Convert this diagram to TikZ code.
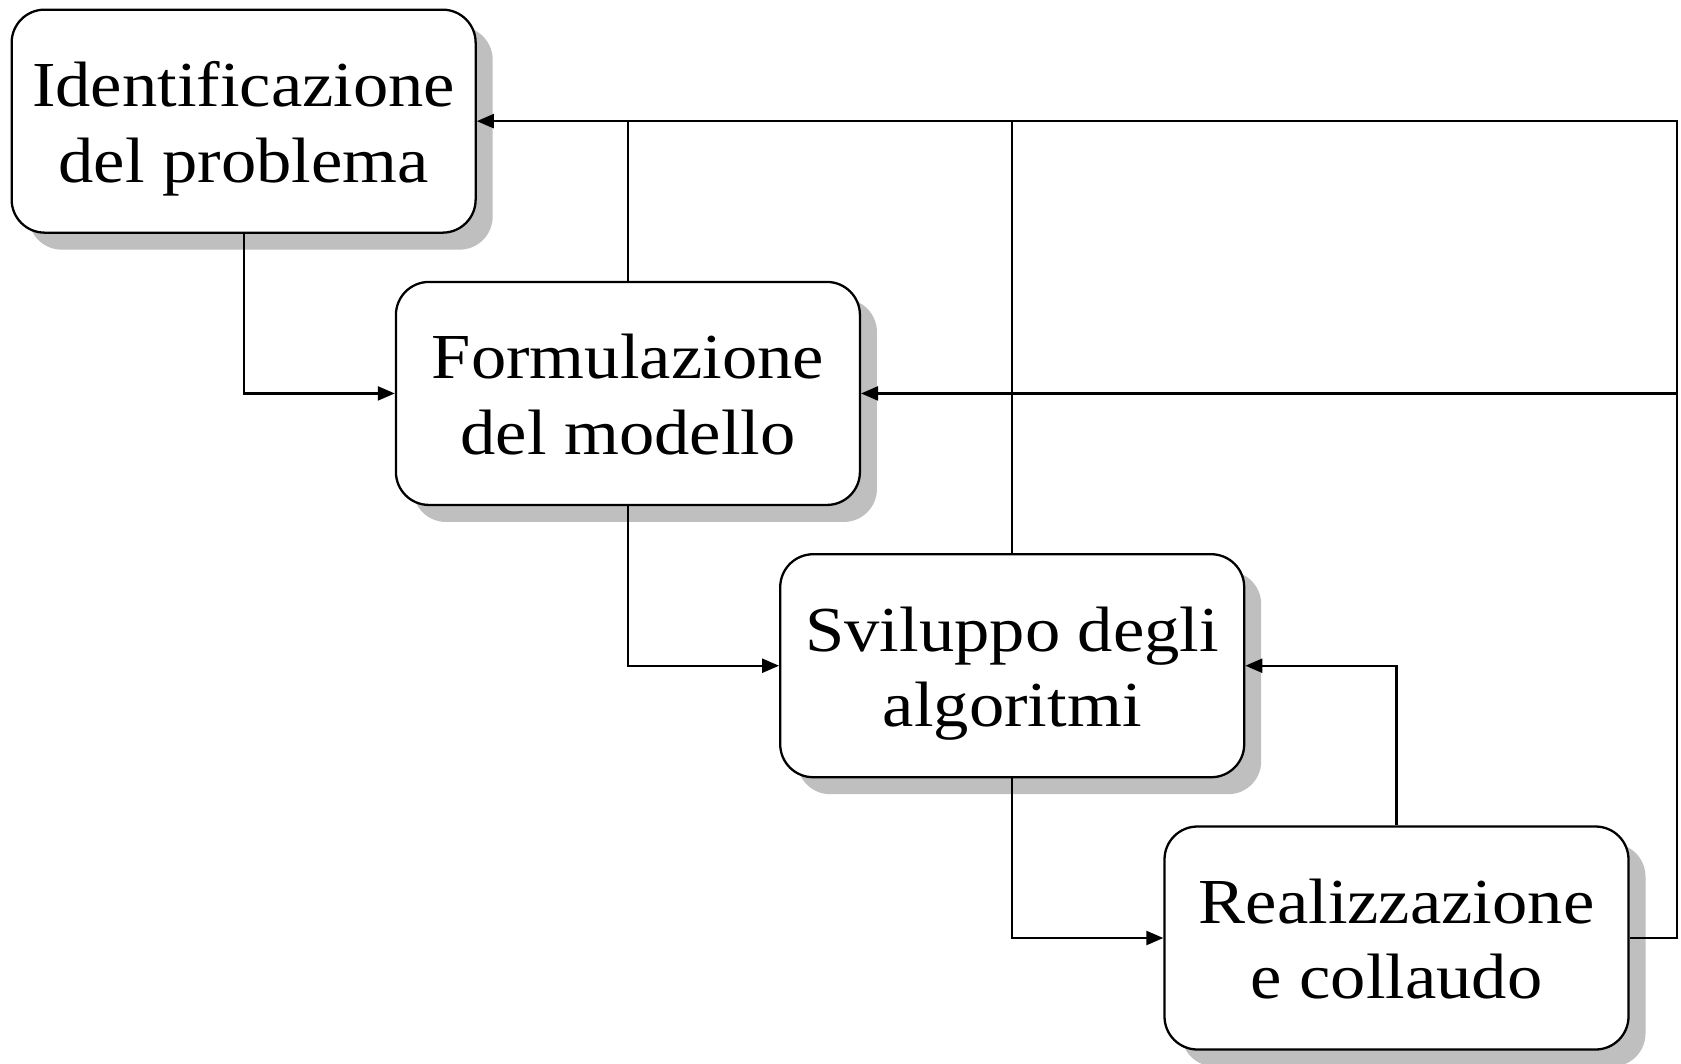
\documentclass[tikz,border=0pt]{standalone}
\usepackage{fontspec}
\setmainfont{Liberation Serif}[FakeStretch=1.1]
\usepackage{tikz}
\usetikzlibrary{calc}
\usetikzlibrary{arrows,arrows.meta,shadows,shapes}
\usetikzlibrary{fit,positioning}
\usepackage{xcolor}
\definecolor{shade}{rgb}{0.75,0.75,0.75}
\begin{document}
\begin{tikzpicture}[line width=1.3pt,
    stage/.style={draw,rounded corners=0.66cm,fill=white,align=center,inner sep=0pt,
      minimum width=9.28cm,minimum height=4.46cm,font=\fontsize{36.5}{43}\selectfont,
      text height=79.3pt,text depth=10pt,
      drop shadow={shadow xshift=0.34cm,shadow yshift=-0.34cm,fill=shade,opacity=1}},
    conn/.style={-{Triangle[length=0.34cm,width=0.28cm]}}]
    \useasboundingbox (0,0) rectangle (33.62,-21.26);
    \node[stage,anchor=north west] (ID) at (0.21,-0.17) {Identificazione\\del problema};
    \node[stage,below right=0.94cm and -1.64cm of ID] (FM) {Formulazione\\del modello};
    \node[stage,below right=0.94cm and -1.64cm of FM] (SA) {Sviluppo degli\\algoritmi};
    \node[stage,below right=0.94cm and -1.64cm of SA] (RC) {Realizzazione\\e collaudo};
    \coordinate (BK) at ($(RC.east)+(0.94,0)$);

    \draw[conn] (ID.south) |- (FM.west);
    \draw[conn] (FM.south) |- (SA.west);
    \draw[conn] (SA.south) |- (RC.west);
    \draw[conn] (RC.north) |- (SA.east);
    \draw[conn] (RC.east) -- (BK) |- (ID.east);
    \draw[conn] (BK |- FM.east) -- (FM.east);
    \draw (FM.north) -- (FM.north |- ID.east);
    \draw (SA.north) -- (SA.north |- ID.east);
  \end{tikzpicture}
\end{document}
